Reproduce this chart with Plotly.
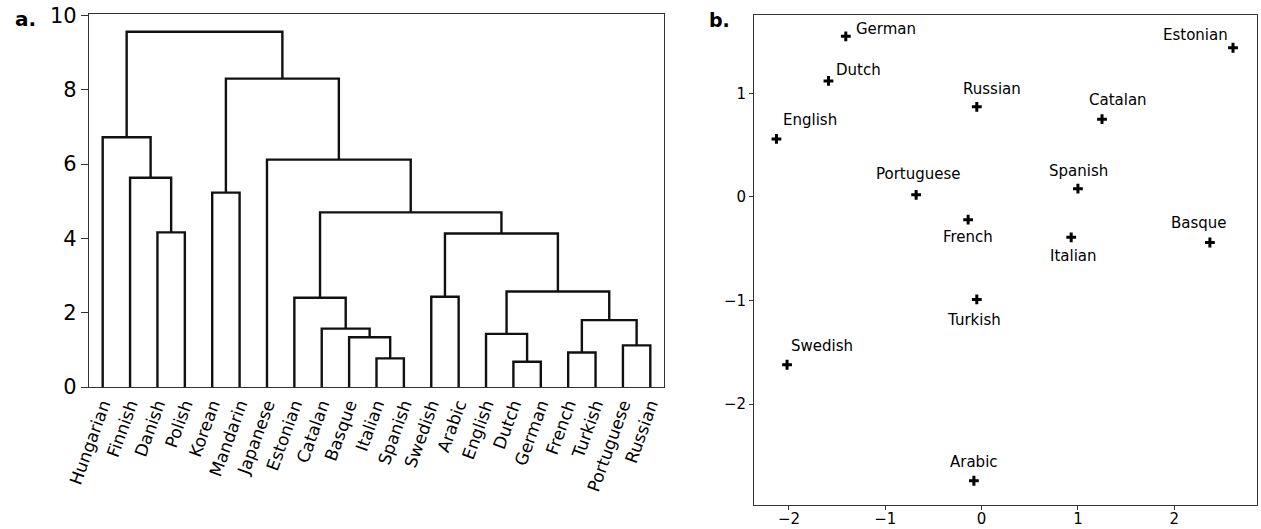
import plotly.graph_objects as go

# ---------------- data: panel a (dendrogram) ----------------
leaf_labels = ["Hungarian", "Finnish", "Danish", "Polish", "Korean", "Mandarin",
               "Japanese", "Estonian", "Catalan", "Basque", "Italian", "Spanish",
               "Swedish", "Arabic", "English", "Dutch", "German", "French",
               "Turkish", "Portuguese", "Russian"]
# merges (scipy-style ids: leaves 0..20, merge k -> 21+k)
merge_left = [15, 10, 17, 19, 9, 14, 8, 23, 7, 12, 26, 30, 2, 29, 4, 1, 6, 0, 35, 38]
merge_right = [16, 11, 18, 20, 22, 21, 25, 24, 27, 13, 28, 31, 3, 32, 5, 33, 34, 36, 37, 39]
merge_height = [0.68, 0.77, 0.93, 1.12, 1.34, 1.43, 1.57, 1.80, 2.40, 2.43, 2.57,
                4.13, 4.16, 4.70, 5.23, 5.63, 6.12, 6.72, 8.30, 9.56]
dendro_yticks = [0, 2, 4, 6, 8, 10]

# ---------------- data: panel b (scatter) ----------------
pt_labels = ["German", "Dutch", "Estonian", "Russian", "Catalan", "English",
             "Portuguese", "Spanish", "French", "Italian", "Basque", "Turkish",
             "Swedish", "Arabic"]
pt_x = [-1.41, -1.59, 2.61, -0.05, 1.25, -2.13, -0.68, 1.00, -0.14, 0.93, 2.37,
        -0.05, -2.02, -0.08]
pt_y = [1.55, 1.12, 1.44, 0.87, 0.75, 0.56, 0.02, 0.08, -0.22, -0.39, -0.44,
        -0.99, -1.62, -2.74]
scatter_xticks = [-2, -1, 0, 1, 2]
scatter_yticks = [-2, -1, 0, 1]

# label offsets in pixels (dx right, dy down) -- styling only
label_offsets = {
    "German": (40, -7), "Dutch": (30, -11), "Estonian": (-38, -13),
    "Russian": (15, -18), "Catalan": (16, -19), "English": (34, -19),
    "Portuguese": (2, -21), "Spanish": (1, -18), "French": (0, 17),
    "Italian": (2, 19), "Basque": (-11, -20), "Turkish": (-3, 21),
    "Swedish": (35, -19), "Arabic": (0, -19),
}

FONT = "DejaVu Sans"
W, H = 1261, 529

def minus(v):
    return str(v).replace("-", "\u2212")

# ---------- build dendrogram coordinates ----------
n = len(leaf_labels)
node_x = {i: 5 + 10 * i for i in range(n)}
node_h = {i: 0.0 for i in range(n)}
lx, ly = [], []
for k, (a, b, h) in enumerate(zip(merge_left, merge_right, merge_height)):
    xa, xb = node_x[a], node_x[b]
    lx += [xa, xa, xb, xb, None]
    ly += [node_h[a], h, h, node_h[b], None]
    node_x[n + k] = (xa + xb) / 2
    node_h[n + k] = h

fig = go.Figure()
fig.add_trace(go.Scatter(x=lx, y=ly, mode="lines",
                         line=dict(color="#111", width=2.4),
                         xaxis="x", yaxis="y", hoverinfo="skip",
                         showlegend=False))

fig.add_trace(go.Scatter(x=pt_x, y=pt_y, mode="markers",
                         marker=dict(symbol="cross-thin", size=7,
                                     line=dict(color="#000", width=3)),
                         xaxis="x2", yaxis="y2", showlegend=False))

annotations = []
for lab, x, y in zip(pt_labels, pt_x, pt_y):
    dx, dy = label_offsets[lab]
    annotations.append(dict(x=x, y=y, xref="x2", yref="y2", text=lab,
                            showarrow=False, xshift=dx, yshift=-dy,
                            font=dict(family=FONT, size=15, color="#000")))

annotations.append(dict(x=13 / W, y=1 - 19 / H, xref="paper", yref="paper",
                        text="<b>a.</b>", showarrow=False, xanchor="left",
                        yanchor="middle",
                        font=dict(family=FONT, size=20, color="#000")))
annotations.append(dict(x=707 / W, y=1 - 20 / H, xref="paper", yref="paper",
                        text="<b>b.</b>", showarrow=False, xanchor="left",
                        yanchor="middle",
                        font=dict(family=FONT, size=19, color="#000")))

axis_common = dict(showline=True, mirror=True, linecolor="#333", linewidth=1.3,
                   showgrid=False, zeroline=False, automargin=False)

fig.update_layout(
    width=W, height=H,
    margin=dict(l=0, r=0, t=0, b=0),
    plot_bgcolor="white", paper_bgcolor="white",
    font=dict(family=FONT, color="#000"),
    xaxis=dict(domain=[89 / W, 664 / W], range=[0, 10 * n], anchor="y",
               tickvals=[5 + 10 * i for i in range(n)], ticktext=leaf_labels,
               tickangle=-70, ticks="", tickfont=dict(size=17),
               **axis_common),
    yaxis=dict(domain=[1 - 387 / H, 1 - 14 / H], range=[0, max(merge_height) * 1.05],
               anchor="x", tickvals=dendro_yticks,
               ticktext=[str(v) for v in dendro_yticks],
               ticks="outside", ticklen=7, tickwidth=1.2, tickcolor="#333",
               tickfont=dict(size=21), **axis_common),
    xaxis2=dict(domain=[754.3 / W, 1256.7 / W], range=[-2.36, 2.856], anchor="y2",
                tickvals=scatter_xticks, ticktext=[minus(v) for v in scatter_xticks],
                ticks="outside", ticklen=4, tickwidth=1.2, tickcolor="#333",
                ticklabelstandoff=-4,
                tickfont=dict(size=15), **axis_common),
    yaxis2=dict(domain=[1 - 505 / H, 1 - 14.7 / H], range=[-2.974, 1.759], anchor="x2",
                tickvals=scatter_yticks, ticktext=[minus(v) for v in scatter_yticks],
                ticks="outside", ticklen=4, tickwidth=1.2, tickcolor="#333",
                tickfont=dict(size=15), **axis_common),
    annotations=annotations,
)

fig.write_html("out.html")
